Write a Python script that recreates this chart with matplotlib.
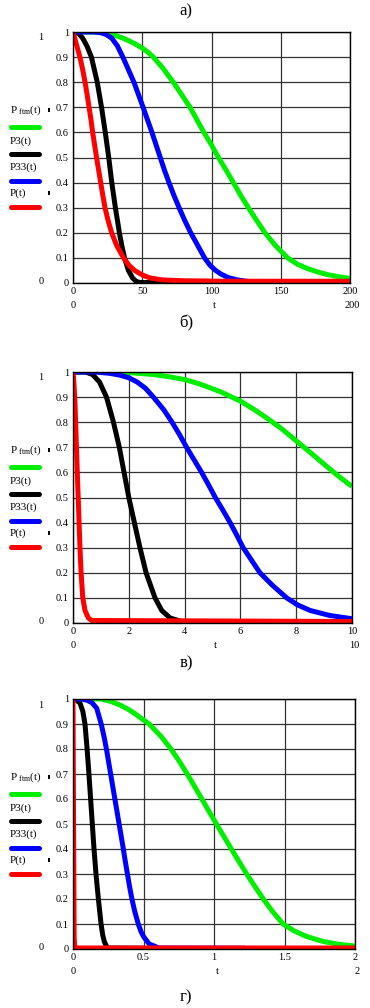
import matplotlib
matplotlib.use('Agg')
import matplotlib.pyplot as plt
from matplotlib.lines import Line2D
from matplotlib.patches import Rectangle

# values (t, P)
# panel 1: t in 0..200
p1_ftm_t = [0, 10, 19.5, 25, 30, 35, 40, 45, 50, 54, 58, 65, 72.4, 78.5, 84.5, 89.5, 94.5, 100, 105,
            110.5, 115.8, 121, 126.6, 132.5, 138.6, 146, 155, 162, 169, 176, 184, 192, 200]
p1_ftm_p = [1, 1, 0.999, 0.995, 0.987, 0.978, 0.966, 0.952, 0.936, 0.92, 0.9, 0.855, 0.8, 0.75, 0.7, 0.65,
            0.6, 0.55, 0.5, 0.45, 0.4, 0.35, 0.3, 0.25, 0.2, 0.15, 0.1, 0.075, 0.058, 0.045, 0.033, 0.025, 0.018]
p1_p3_t = [0, 4, 7, 10, 13.3, 17.5, 20.6, 23.3, 25.8, 28, 30.6, 33.5, 35.2, 37.2, 40, 43, 45.5, 48, 200]
p1_p3_p = [1, 0.995, 0.975, 0.945, 0.9, 0.8, 0.7, 0.6, 0.5, 0.4, 0.3, 0.2, 0.15, 0.1, 0.05, 0.02, 0.007,
           0.002, 0.002]
p1_p33_t = [0, 15, 20, 24, 28, 32, 36, 40, 44, 47.3, 50.6, 53.8, 57, 60, 63, 66, 69.3, 72.8, 76.6, 80.6,
            85, 90, 95, 99, 103, 107, 112, 118, 125, 135, 150, 200]
p1_p33_p = [1, 1, 0.997, 0.99, 0.975, 0.945, 0.9, 0.85, 0.8, 0.75, 0.7, 0.65, 0.6, 0.55, 0.5, 0.45, 0.4,
            0.35, 0.3, 0.25, 0.2, 0.15, 0.1, 0.07, 0.05, 0.035, 0.022, 0.013, 0.007, 0.003, 0.002, 0.002]
p1_p_t = [0, 1.5, 3, 5, 7, 8.7, 10.2, 11.6, 13, 14.2, 15.6, 17, 18.5, 20, 21.5, 23.1, 25.3, 27.9, 31.5,
          36.5, 40.5, 44.5, 50, 55.6, 65, 80, 110, 200]
p1_p_p = [1, 0.97, 0.94, 0.9, 0.85, 0.8, 0.75, 0.7, 0.65, 0.6, 0.55, 0.5, 0.45, 0.4, 0.35, 0.3, 0.25, 0.2,
          0.15, 0.1, 0.07, 0.05, 0.032, 0.02, 0.012, 0.009, 0.007, 0.007]

# panel 2: t in 0..10
p2_ftm_t = [0, 1.45, 2.2, 2.88, 3.5, 4, 4.55, 5.27, 6, 6.5, 6.94, 7.5, 8.02, 8.55, 9.09, 9.55, 10]
p2_ftm_p = [1, 1, 0.996, 0.99, 0.98, 0.97, 0.952, 0.922, 0.884, 0.85, 0.817, 0.772, 0.724, 0.675, 0.624,
            0.582, 0.544]
p2_p3_t = [0, 0.45, 0.7, 0.95, 1.2, 1.45, 1.66, 1.83, 2.0, 2.2, 2.4, 2.62, 2.78, 2.94, 3.18, 3.48, 3.95, 10]
p2_p3_p = [1, 1, 0.99, 0.96, 0.9, 0.8, 0.7, 0.6, 0.5, 0.4, 0.3, 0.2, 0.15, 0.1, 0.05, 0.02, 0.004, 0.003]
p2_p33_t = [0, 0.8, 1.3, 1.7, 2, 2.3, 2.6, 2.88, 3.25, 3.55, 3.82, 4.07, 4.34, 4.61, 4.86, 5.1, 5.37, 5.63,
            5.87, 6.1, 6.4, 6.7, 7.15, 7.66, 8.05, 8.5, 9.2, 10]
p2_p33_p = [1, 1, 0.995, 0.987, 0.977, 0.96, 0.935, 0.9, 0.85, 0.8, 0.75, 0.7, 0.65, 0.6, 0.55, 0.5, 0.45,
            0.4, 0.35, 0.3, 0.25, 0.2, 0.15, 0.1, 0.072, 0.05, 0.03, 0.017]
p2_p_t = [0, 0.03, 0.07, 0.1, 0.13, 0.16, 0.19, 0.22, 0.25, 0.29, 0.35, 0.43, 0.55, 0.67, 10]
p2_p_p = [1, 0.96, 0.88, 0.78, 0.68, 0.58, 0.49, 0.39, 0.3, 0.2, 0.1, 0.05, 0.02, 0.01, 0.006]

# panel 3: t in 0..2
p3_ftm_t = [0, 0.2, 0.27, 0.333, 0.4, 0.45, 0.5, 0.54, 0.625, 0.695, 0.755, 0.81, 0.862, 0.914, 0.965,
            1.017, 1.07, 1.123, 1.177, 1.232, 1.29, 1.35, 1.415, 1.49, 1.57, 1.657, 1.775, 1.88, 2.0]
p3_ftm_p = [1, 1, 0.99, 0.976, 0.956, 0.937, 0.916, 0.9, 0.85, 0.8, 0.75, 0.7, 0.65, 0.6, 0.55, 0.5, 0.45,
            0.4, 0.35, 0.3, 0.25, 0.2, 0.15, 0.1, 0.072, 0.05, 0.03, 0.019, 0.012]
p3_p3_t = [0, 0.02, 0.05, 0.07, 0.085, 0.1, 0.113, 0.125, 0.137, 0.149, 0.163, 0.18, 0.199, 0.211, 0.222,
           0.243, 0.5]
p3_p3_p = [1, 0.998, 0.983, 0.95, 0.9, 0.8, 0.7, 0.6, 0.5, 0.4, 0.3, 0.2, 0.1, 0.055, 0.03, 0.004, 0.003]
p3_p33_t = [0, 0.06, 0.1, 0.135, 0.168, 0.2, 0.22, 0.237, 0.252, 0.267, 0.282, 0.297, 0.312, 0.327, 0.342,
            0.357, 0.371, 0.386, 0.401, 0.418, 0.438, 0.463, 0.482, 0.5, 0.54, 0.61, 1.22]
p3_p33_p = [1, 1, 0.995, 0.985, 0.963, 0.9, 0.85, 0.8, 0.75, 0.7, 0.65, 0.6, 0.55, 0.5, 0.45, 0.4, 0.35,
            0.3, 0.25, 0.2, 0.15, 0.1, 0.07, 0.05, 0.02, 0.004, 0.003]
p3_p_t = [0, 0.004, 0.008, 0.012, 2.0]
p3_p_p = [1, 0.5, 0.05, 0.004, 0.004]

x_ticks_1 = [0, 50, 100, 150, 200]
x_ticks_2 = [0, 2, 4, 6, 8, 10]
x_ticks_3 = [0, 0.5, 1, 1.5, 2]
y_ticks = [0, 0.1, 0.2, 0.3, 0.4, 0.5, 0.6, 0.7, 0.8, 0.9, 1]

legend_names = [r'$\mathrm{P}_{\ \mathrm{ftm}}\mathrm{(t)}$', 'P3(t)', 'P33(t)', 'P(t)']
colors = ['#00ee00', 'black', '#0000ff', '#ff0000']

plt.rcParams['font.family'] = ['Liberation Serif', 'DejaVu Serif']
plt.rcParams['mathtext.fontset'] = 'custom'
plt.rcParams['mathtext.rm'] = 'Liberation Serif'

W, H = 370, 1008
fig = plt.figure(figsize=(W / 100, H / 100), dpi=100)


def fx(px):
    return px / W


def fy(py):
    return 1 - py / H


def fmt(v):
    return '%g' % v


def panel(box, series, xticks):
    l, t, r, b = box
    ax = fig.add_axes([fx(l), fy(b), (r - l) / W, (b - t) / H])
    for (ts, ps), c in zip(series, colors):
        ax.plot(ts, ps, color=c, lw=3.6, solid_capstyle='butt', solid_joinstyle='round')
    ax.set_xlim(xticks[0], xticks[-1])
    ax.set_ylim(0, 1)
    ax.set_xticks(xticks)
    ax.set_xticklabels([fmt(v) for v in xticks])
    ax.set_yticks(y_ticks)
    ax.set_yticklabels([fmt(v) for v in y_ticks])
    ax.tick_params(length=0, labelsize=7.5, pad=3)
    ax.grid(color='#333333', lw=0.9)
    ax.set_axisbelow(True)
    for s in ax.spines.values():
        s.set_linewidth(1.0)
        s.set_color('black')

    # mathcad-style limit labels
    fig.text(fx(41), fy(t + 6), '1', fontsize=7.5, ha='center', va='center')
    fig.text(fx(41), fy(b - 2), '0', fontsize=7.5, ha='center', va='center')
    fig.text(fx(l), fy(b + 23), fmt(xticks[0]), fontsize=7.5, ha='center', va='center')
    fig.text(fx((l + r) / 2 + 3), fy(b + 23), 't', fontsize=7.5, ha='center', va='center')
    fig.text(fx(r + 2), fy(b + 23), fmt(xticks[-1]), fontsize=7.5, ha='center', va='center')

    # legend on the left
    text_off = [78, 109, 135, 161]
    line_off = [95, 122, 149, 175]
    for name, c, to, lo in zip(legend_names, colors, text_off, line_off):
        fig.text(fx(10), fy(t + to), name, fontsize=8, ha='left', va='center')
        fig.add_artist(Line2D([fx(11), fx(39)], [fy(t + lo), fy(t + lo)],
                              color=c, lw=3.6, solid_capstyle='round'))
    for to in (text_off[0], text_off[3]):
        fig.add_artist(Rectangle((fx(48), fy(t + to + 2)), 2 / W, 4 / H,
                                 color='black', lw=0))
    return ax


panel((73, 32, 350, 283),
      [(p1_ftm_t, p1_ftm_p), (p1_p3_t, p1_p3_p), (p1_p33_t, p1_p33_p), (p1_p_t, p1_p_p)],
      x_ticks_1)
panel((73, 372, 352, 623),
      [(p2_ftm_t, p2_ftm_p), (p2_p3_t, p2_p3_p), (p2_p33_t, p2_p33_p), (p2_p_t, p2_p_p)],
      x_ticks_2)
panel((73, 699, 355, 949),
      [(p3_ftm_t, p3_ftm_p), (p3_p3_t, p3_p3_p), (p3_p33_t, p3_p33_p), (p3_p_t, p3_p_p)],
      x_ticks_3)

for label, y in [('а)', 11), ('б)', 323), ('в)', 663), ('г)', 997)]:
    fig.text(fx(186), fy(y), label, fontsize=12, ha='center', va='center')

fig.savefig('out.png', dpi=100)
